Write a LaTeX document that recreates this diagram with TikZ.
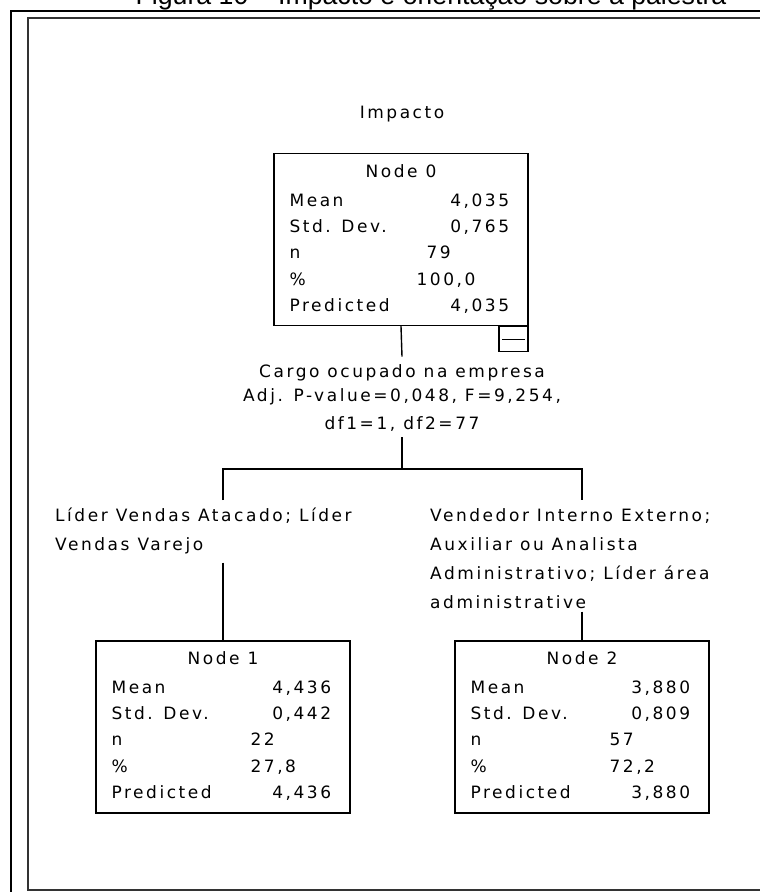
\documentclass[tikz,border=0pt]{standalone}
\usepackage{fontspec}
\usetikzlibrary{positioning, calc}
\newfontfamily\spssfont[LetterSpace=15]{DejaVu Sans}
\newfontfamily\titlefont{Liberation Sans}

\begin{document}
\begin{tikzpicture}[x=1pt, y=-1pt,
    every node/.style={inner sep=0pt},
    txt/.style={font=\fontsize{17}{29}\selectfont\spssfont, text height=12.4pt, text depth=0pt},
    lbl/.style={font=\fontsize{17}{29}\selectfont\spssfont, align=left, inner ysep=8pt, anchor=north west},
    statbox/.style={draw, line width=1.3pt, minimum width=254pt, minimum height=172pt},
    edge/.style={line width=1.4pt}]
  \useasboundingbox (0,0) rectangle (760,892);
  \clip (0,0) rectangle (760,892);
  % frame and caption
  \draw[line width=2.5pt] (11,950) |- (800,11);
  \draw[line width=1.5pt, black!80] (800,890) -| (28,18) -- (800,18);
  \node[font={\fontsize{26.7}{30}\selectfont\titlefont}, anchor=base] (title) at (431,4)
    {Figura 10 – Impacto e orientação sobre a palestra};

  % tree nodes
  \node[txt] (target) at (402,112) {Impacto};
  \node[statbox] (n0) at (401,239.5) {};
  \node[statbox] (n1) at (223,727) {};
  \node[statbox] (n2) at (582,727) {};
  \node[draw, line width=1.3pt, minimum width=29pt, minimum height=25pt, anchor=north east]
    (toggle) at (n0.south east) {};
  \draw[edge] ([xshift=4pt]toggle.west) -- ([xshift=-4pt]toggle.east);

  \foreach \b/\id/\nx/\px/\mn/\sd/\nn/\pc in {n0/0/153/143/{4,035}/{0,765}/79/{100,0},
      n1/1/155/155/{4,436}/{0,442}/22/{27,8}, n2/2/155/155/{3,880}/{0,809}/57/{72,2}} {
    \node[txt] (\b-head) at ($(\b.north)+(0,18)$) {Node \id};
    \foreach \lab/\dy in {Mean/47, Std. Dev./73, n/99, \%/126, Predicted/152}
      \node[txt, anchor=west] (\b-row\dy) at ($(\b.north west)+(16,\dy)$) {\lab};
    \node[txt, anchor=east] (\b-mean) at ($(\b.north west)+(236,47)$) {\mn};
    \node[txt, anchor=east] (\b-sd) at ($(\b.north west)+(236,73)$) {\sd};
    \node[txt, anchor=west] (\b-n) at ($(\b.north west)+(\nx,99)$) {\nn};
    \node[txt, anchor=west] (\b-pct) at ($(\b.north west)+(\px,126)$) {\pc};
    \node[txt, anchor=east] (\b-pred) at ($(\b.north west)+(236,152)$) {\mn};
  }

  % split
  \node[txt] (split1) at (402,371) {Cargo ocupado na empresa};
  \node[txt] (split2) at (402,395) {Adj. P-value=0,048, F=9,254,};
  \node[txt] (split3) at (402,423) {df1=1, df2=77};
  \coordinate (fork) at (402,469);
  \node[lbl] (lblL) at (55,500) {Líder Vendas Atacado; Líder\\Vendas Varejo};
  \node[lbl] (lblR) at (430,500) {Vendedor Interno Externo;\\Auxiliar ou Analista\\Administrativo; Líder área\\administrative};

  \draw[edge] (n0.south) -- ([yshift=8pt]split1.north);
  \draw[edge] ([yshift=-8pt]split3.south) -- (fork);
  \draw[edge] (lblL.north -| n1.north) |- (fork) -| (lblR.north -| n2.north);
  \draw[edge] (lblL.south -| n1.north) -- (n1.north);
  \draw[edge] ([yshift=5pt]lblR.south -| n2.north) -- (n2.north);
\end{tikzpicture}
\end{document}
